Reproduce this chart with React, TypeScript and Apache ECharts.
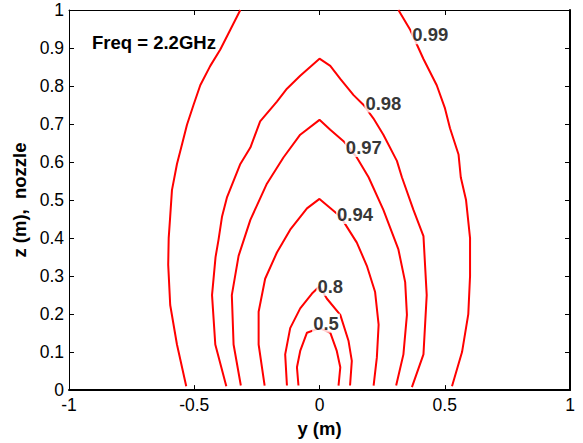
import React, { useEffect, useRef } from "react";
import * as echarts from "echarts";

// Contour lines: [y (m), z (m)]
const c099Left: number[][] = [
  [-0.532, 0.01], [-0.569, 0.12], [-0.596, 0.224], [-0.604, 0.33], [-0.602, 0.4], [-0.596, 0.457],
  [-0.589, 0.526], [-0.569, 0.595], [-0.549, 0.646], [-0.529, 0.698], [-0.503, 0.75], [-0.476, 0.802],
  [-0.436, 0.853], [-0.396, 0.896], [-0.356, 0.948], [-0.316, 1.0],
];
const c099Right: number[][] = [
  [0.315, 1.0], [0.362, 0.948], [0.415, 0.871], [0.468, 0.802], [0.501, 0.741], [0.521, 0.689],
  [0.555, 0.62], [0.564, 0.56], [0.585, 0.5], [0.601, 0.4], [0.601, 0.3], [0.594, 0.2],
  [0.569, 0.1], [0.529, 0.01],
];
const c098: number[][] = [
  [-0.372, 0.01], [-0.416, 0.12], [-0.429, 0.25], [-0.415, 0.35], [-0.403, 0.396], [-0.389, 0.457],
  [-0.369, 0.508], [-0.316, 0.595], [-0.276, 0.638], [-0.237, 0.707], [-0.17, 0.759], [-0.13, 0.793],
  [-0.077, 0.827], [0, 0.872], [0.043, 0.853], [0.083, 0.819], [0.136, 0.776], [0.176, 0.75],
  [0.215, 0.715], [0.255, 0.672], [0.309, 0.603], [0.329, 0.56], [0.375, 0.474], [0.415, 0.405],
  [0.428, 0.25], [0.415, 0.094], [0.369, 0.008],
];
const c097: number[][] = [
  [-0.314, 0.012], [-0.343, 0.12], [-0.35, 0.25], [-0.323, 0.353], [-0.276, 0.448], [-0.21, 0.543],
  [-0.144, 0.612], [-0.077, 0.672], [0, 0.711], [0.043, 0.685], [0.096, 0.655], [0.149, 0.612],
  [0.196, 0.56], [0.255, 0.474], [0.315, 0.37], [0.342, 0.284], [0.349, 0.198], [0.335, 0.094],
  [0.306, 0.012],
];
const c094: number[][] = [
  [-0.219, 0.012], [-0.243, 0.12], [-0.243, 0.206], [-0.217, 0.293], [-0.17, 0.362], [-0.117, 0.422],
  [-0.05, 0.478], [0, 0.503], [0.083, 0.457], [0.149, 0.388], [0.189, 0.327], [0.222, 0.258],
  [0.236, 0.172], [0.229, 0.086], [0.216, 0.012],
];
const c080: number[][] = [
  [-0.13, 0.012], [-0.137, 0.094], [-0.117, 0.163], [-0.077, 0.215], [-0.03, 0.254], [0, 0.273],
  [0.029, 0.241], [0.083, 0.198], [0.116, 0.129], [0.129, 0.077], [0.122, 0.012],
];
const c050: number[][] = [
  [-0.084, 0.012], [-0.09, 0.06], [-0.077, 0.103], [-0.05, 0.151], [0, 0.163], [0.043, 0.151],
  [0.069, 0.103], [0.083, 0.06], [0.076, 0.012],
];

// Contour labels
const labelTexts: string[] = ["0.99", "0.98", "0.97", "0.94", "0.8", "0.5"];
const labelPos: number[][] = [
  [0.442, 0.935], [0.255, 0.755], [0.177, 0.638], [0.142, 0.462], [0.043, 0.273], [0.026, 0.176],
];

const xTicks = { min: -1, max: 1, interval: 0.5 };
const yTicks = { min: 0, max: 1, interval: 0.1 };

const FONT = "Liberation Sans, Arial, Helvetica, sans-serif";
const BOLD_SIZE = 18.5;
const TICK_SIZE = 17.5;

export default function App() {
  const ref = useRef<HTMLDivElement>(null);
  useEffect(() => {
    if (!ref.current) return;
    const chart = echarts.init(ref.current, null, { renderer: "svg" });
    const lineSeries = (data: number[][]) => ({
      type: "line",
      data,
      symbol: "none",
      smooth: false,
      lineStyle: { color: "#ff0000", width: 2 },
      z: 2,
      silent: true,
    });
    chart.setOption({
      animation: false,
      textStyle: { fontFamily: FONT },
      grid: { left: 69, right: 13, top: 10, bottom: 46.5, containLabel: false },
      xAxis: [
        {
          type: "value",
          ...xTicks,
          position: "bottom",
          name: "y (m)",
          nameLocation: "middle",
          nameGap: 21,
          nameTextStyle: { fontSize: BOLD_SIZE, fontWeight: "bold", color: "#000", fontFamily: FONT, verticalAlign: "top" },
          axisLine: { show: true, onZero: false, lineStyle: { color: "#000", width: 2 } },
          axisTick: { show: true, inside: true, length: 5, lineStyle: { color: "#000" } },
          axisLabel: { fontSize: TICK_SIZE, color: "#000", margin: 6, fontFamily: FONT },
          splitLine: { show: false },
        },
        {
          type: "value",
          ...xTicks,
          position: "top",
          axisLine: { show: true, onZero: false, lineStyle: { color: "#000", width: 1 } },
          axisTick: { show: true, inside: true, length: 5, lineStyle: { color: "#000" } },
          axisLabel: { show: false },
          splitLine: { show: false },
        },
      ],
      yAxis: [
        {
          type: "value",
          ...yTicks,
          position: "left",
          name: "z (m),  nozzle",
          nameLocation: "middle",
          nameGap: 40,
          nameRotate: 90,
          nameTextStyle: { fontSize: BOLD_SIZE, fontWeight: "bold", color: "#000", fontFamily: FONT },
          axisLine: { show: true, onZero: false, lineStyle: { color: "#000", width: 1 } },
          axisTick: { show: true, inside: true, length: 5, lineStyle: { color: "#000" } },
          axisLabel: { fontSize: TICK_SIZE, color: "#000", margin: 5, fontFamily: FONT },
          splitLine: { show: false },
        },
        {
          type: "value",
          ...yTicks,
          position: "right",
          axisLine: { show: true, onZero: false, lineStyle: { color: "#000", width: 2 } },
          axisTick: { show: true, inside: true, length: 5, lineStyle: { color: "#000" } },
          axisLabel: { show: false },
          splitLine: { show: false },
        },
      ],
      series: [
        lineSeries(c099Left),
        lineSeries(c099Right),
        lineSeries(c098),
        lineSeries(c097),
        lineSeries(c094),
        lineSeries(c080),
        lineSeries(c050),
        {
          type: "scatter",
          symbolSize: 0,
          z: 5,
          silent: true,
          data: labelPos.map((p, i) => ({ value: p, name: labelTexts[i] })),
          label: {
            show: true,
            position: "inside",
            formatter: (p: any) => p.name,
            fontSize: BOLD_SIZE,
            fontWeight: "bold",
            color: "#000",
            fontFamily: FONT,
            backgroundColor: "#fff",
            padding: [0, 1],
          },
        },
      ],
      graphic: [
        {
          type: "text",
          left: 92,
          top: 33,
          style: { text: "Freq = 2.2GHz", fontSize: BOLD_SIZE, fontWeight: "bold", fill: "#000", fontFamily: FONT },
          z: 10,
        },
      ],
    });
    return () => chart.dispose();
  }, []);
  return <div ref={ref} style={{ position: "fixed", left: 0, top: 0, width: 583, height: 443, background: "#fff" }} />;
}
